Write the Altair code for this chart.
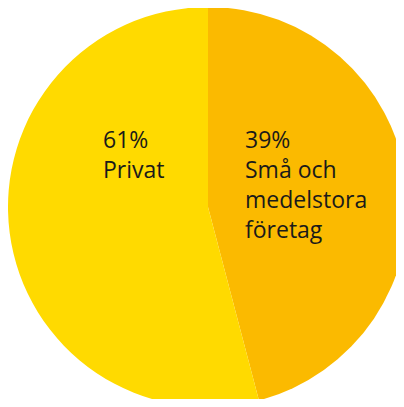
import altair as alt
import pandas as pd

categories = ["Små och medelstora företag", "Privat"]
values = [45.9, 54.1]
percent_labels = ["39%", "61%"]
name_lines = [["Små och", "medelstora", "företag"], ["Privat"]]
colors = ["#FBBA00", "#FFDA00"]

df = pd.DataFrame({
    "kategori": categories,
    "varde": values,
    "ordning": [0, 1],
})

pie = alt.Chart(df).mark_arc(outerRadius=200, stroke=None).encode(
    theta=alt.Theta("varde:Q", stack=True),
    order=alt.Order("ordning:Q"),
    color=alt.Color("kategori:N", scale=alt.Scale(domain=categories, range=colors), legend=None),
    x=alt.value(200),
    y=alt.value(199),
)

lab_df = pd.DataFrame({
    "kategori": categories,
    "text": [[p] + n for p, n in zip(percent_labels, name_lines)],
    "lx": [237, 95],
    "ly": [140, 140],
})

labels = alt.Chart(lab_df).mark_text(
    align="left", baseline="alphabetic", fontSize=23, lineHeight=30,
    font="Open Sans", color="#1a1a1a"
).encode(
    x=alt.X("lx:Q", scale=None),
    y=alt.Y("ly:Q", scale=None),
    text="text",
)

chart = alt.layer(pie, labels).properties(
    width=388, height=391, padding=0, autosize=alt.AutoSizeParams(type="none")
).configure_view(stroke=None)

chart.save("out.html", embed_options={"renderer": "svg", "actions": False})
